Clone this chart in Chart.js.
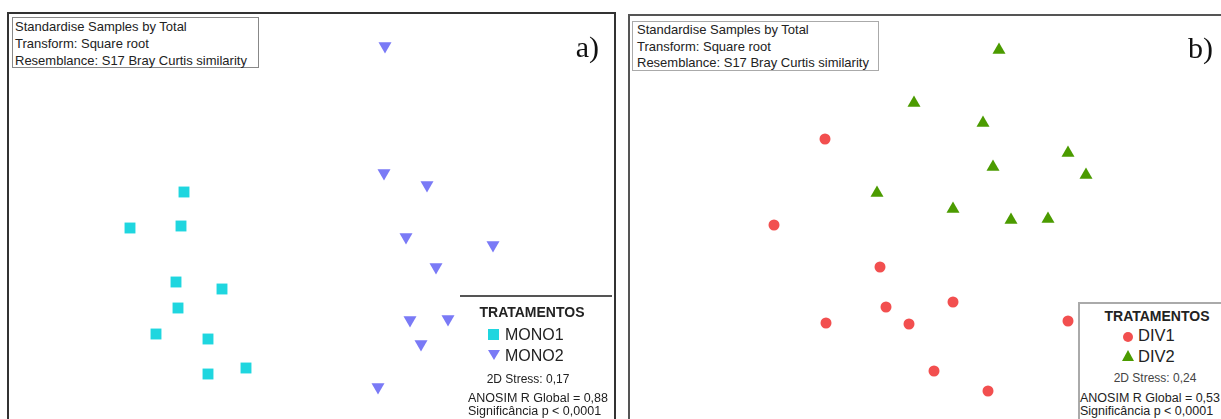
<!DOCTYPE html>
<html>
<head>
<meta charset="utf-8">
<script src="https://cdn.jsdelivr.net/npm/chart.js@4.4.0/dist/chart.umd.min.js"></script>
<style>
  body { margin: 0; width: 1221px; height: 419px; overflow: hidden; background: #fff;
         font-family: "Liberation Sans", Arial, sans-serif; color: #222; }
  .panel { position: absolute; box-sizing: content-box; }
  .panel canvas { position: absolute; left: 0; top: 0; }
  .info { position: absolute; box-sizing: border-box; font-size: 13px; line-height: 17px;
          white-space: nowrap; background: #fff; }
  .lbl { position: absolute; font-family: "Liberation Serif", "Times New Roman", serif;
         font-size: 30px; line-height: 30px; color: #111; }
  .t { position: absolute; white-space: nowrap; line-height: 1; }
</style>
</head>
<body>

<div class="panel" id="panelA" style="left:7px; top:12px; width:605px; height:405px; border:2px solid #333;">
  <canvas id="chartA" width="605" height="405"></canvas>
</div>
<div class="panel" id="panelB" style="left:628px; top:14px; width:600px; height:403px; border:2px solid #555;">
  <canvas id="chartB" width="600" height="403"></canvas>
</div>

<!-- panel a overlays -->
<div class="info" style="left:12px; top:17px; width:247px; height:51px; border:1px solid #888; padding-left:2px;">
  Standardise Samples by Total<br>Transform: Square root<br>Resemblance: S17 Bray Curtis similarity
</div>
<div class="lbl" style="left:559px; top:32px; width:40px; text-align:right;">a)</div>

<div style="position:absolute; left:460px; top:295px; width:152px; border-top:2px solid #555;"></div>
<div class="t" style="left:470px; top:305px; width:124px; text-align:center; font-size:14px; font-weight:bold;">TRATAMENTOS</div>
<div style="position:absolute; left:488px; top:329px; width:11px; height:11px; background:#1fd6df;"></div>
<div class="t" style="left:505px; top:326.5px; font-size:16px;">MONO1</div>
<div style="position:absolute; left:488px; top:350px; width:0; height:0; border-left:6px solid transparent; border-right:6px solid transparent; border-top:10px solid #7a7af6;"></div>
<div class="t" style="left:505px; top:347.5px; font-size:16px;">MONO2</div>
<div class="t" style="left:468px; top:373px; width:120px; text-align:center; font-size:12px;">2D Stress: 0,17</div>
<div class="t" style="left:468px; top:392px; font-size:12.5px;">ANOSIM R Global = 0,88</div>
<div class="t" style="left:468px; top:404.5px; font-size:12.5px;">Significância p &lt; 0,0001</div>

<!-- panel b overlays -->
<div class="info" style="left:632px; top:21px; width:247px; height:50px; border:1px solid #aaa; padding-left:4px; line-height:16.5px;">
  Standardise Samples by Total<br>Transform: Square root<br>Resemblance: S17 Bray Curtis similarity
</div>
<div class="lbl" style="left:1173px; top:33px; width:40px; text-align:right;">b)</div>

<div style="position:absolute; left:1078px; top:302px; width:160px; height:130px; border-left:2px solid #aaa; border-top:2px solid #aaa; background:#fff;"></div>
<div class="t" style="left:1097px; top:309px; width:120px; text-align:center; font-size:14px; font-weight:bold;">TRATAMENTOS</div>
<div style="position:absolute; left:1123px; top:332px; width:10px; height:10px; border-radius:50%; background:#f24f4f;"></div>
<div class="t" style="left:1138px; top:327px; font-size:16.5px;">DIV1</div>
<div style="position:absolute; left:1122px; top:350px; width:0; height:0; border-left:6.5px solid transparent; border-right:6.5px solid transparent; border-bottom:11px solid #4b9b00;"></div>
<div class="t" style="left:1138px; top:347.5px; font-size:16.5px;">DIV2</div>
<div class="t" style="left:1095px; top:371.8px; width:120px; text-align:center; font-size:12px; color:#444;">2D Stress: 0,24</div>
<div class="t" style="left:1080px; top:391.5px; font-size:12.5px;">ANOSIM R Global = 0,53</div>
<div class="t" style="left:1080px; top:405px; font-size:12.5px;">Significância p &lt; 0,0001</div>

<script>
// NMDS coordinates
const mono1X = [-0.64, -0.91, -0.655, -0.68, -0.45, -0.67, -0.78, -0.52, -0.52, -0.33];
const mono1Y = [0.12, -0.06, -0.05, -0.33, -0.365, -0.46, -0.59, -0.615, -0.79, -0.76];
const mono2X = [0.365, 0.36, 0.575, 0.47, 0.905, 0.62, 0.49, 0.68, 0.545, 0.33];
const mono2Y = [0.85, 0.215, 0.155, -0.105, -0.145, -0.255, -0.52, -0.515, -0.64, -0.855];

const div1X = [-0.50, -0.755, -0.225, -0.195, 0.14, -0.495, -0.08, 0.715, 0.045, 0.315];
const div1Y = [0.39, -0.04, -0.25, -0.45, -0.425, -0.53, -0.535, -0.52, -0.77, -0.87];
const div2X = [0.37, -0.055, 0.29, 0.715, 0.34, 0.805, -0.24, 0.14, 0.43, 0.615];
const div2Y = [0.835, 0.57, 0.47, 0.32, 0.25, 0.21, 0.12, 0.04, -0.015, -0.01];

function toPoints(xs, ys) {
    return xs.map(function (x, i) { return { x: x, y: ys[i] }; });
}

function scatterOptions(xMin, xMax, yMin, yMax) {
    return {
        responsive: false,
        animation: false,
        layout: { padding: 0, autoPadding: false },
        plugins: { legend: { display: false }, tooltip: { enabled: false } },
        scales: {
            x: { type: "linear", display: false, min: xMin, max: xMax },
            y: { type: "linear", display: false, min: yMin, max: yMax }
        }
    };
}

// panel a
new Chart(document.getElementById("chartA").getContext("2d"), {
    type: "scatter",
    data: {
        datasets: [
            {
                label: "MONO1",
                data: toPoints(mono1X, mono1Y),
                pointStyle: "rect",
                pointRadius: 7.7,
                backgroundColor: "#1fd6df",
                borderColor: "#1fd6df",
                borderWidth: 0
            },
            {
                label: "MONO2",
                data: toPoints(mono2X, mono2Y),
                pointStyle: "triangle",
                rotation: 180,
                pointRadius: 7.5,
                backgroundColor: "#7a7af6",
                borderColor: "#7a7af6",
                borderWidth: 0
            }
        ]
    },
    options: scatterOptions(-1.515, 1.51, -1.015, 1.01)
});

// panel b
new Chart(document.getElementById("chartB").getContext("2d"), {
    type: "scatter",
    data: {
        datasets: [
            {
                label: "DIV1",
                data: toPoints(div1X, div1Y),
                pointStyle: "circle",
                pointRadius: 5.5,
                backgroundColor: "#f24f4f",
                borderColor: "#f24f4f",
                borderWidth: 0
            },
            {
                label: "DIV2",
                data: toPoints(div2X, div2Y),
                pointStyle: "triangle",
                pointRadius: 7.5,
                backgroundColor: "#4b9b00",
                borderColor: "#4b9b00",
                borderWidth: 0
            }
        ]
    },
    options: scatterOptions(-1.475, 1.525, -1.01, 1.005)
});
</script>
</body>
</html>
